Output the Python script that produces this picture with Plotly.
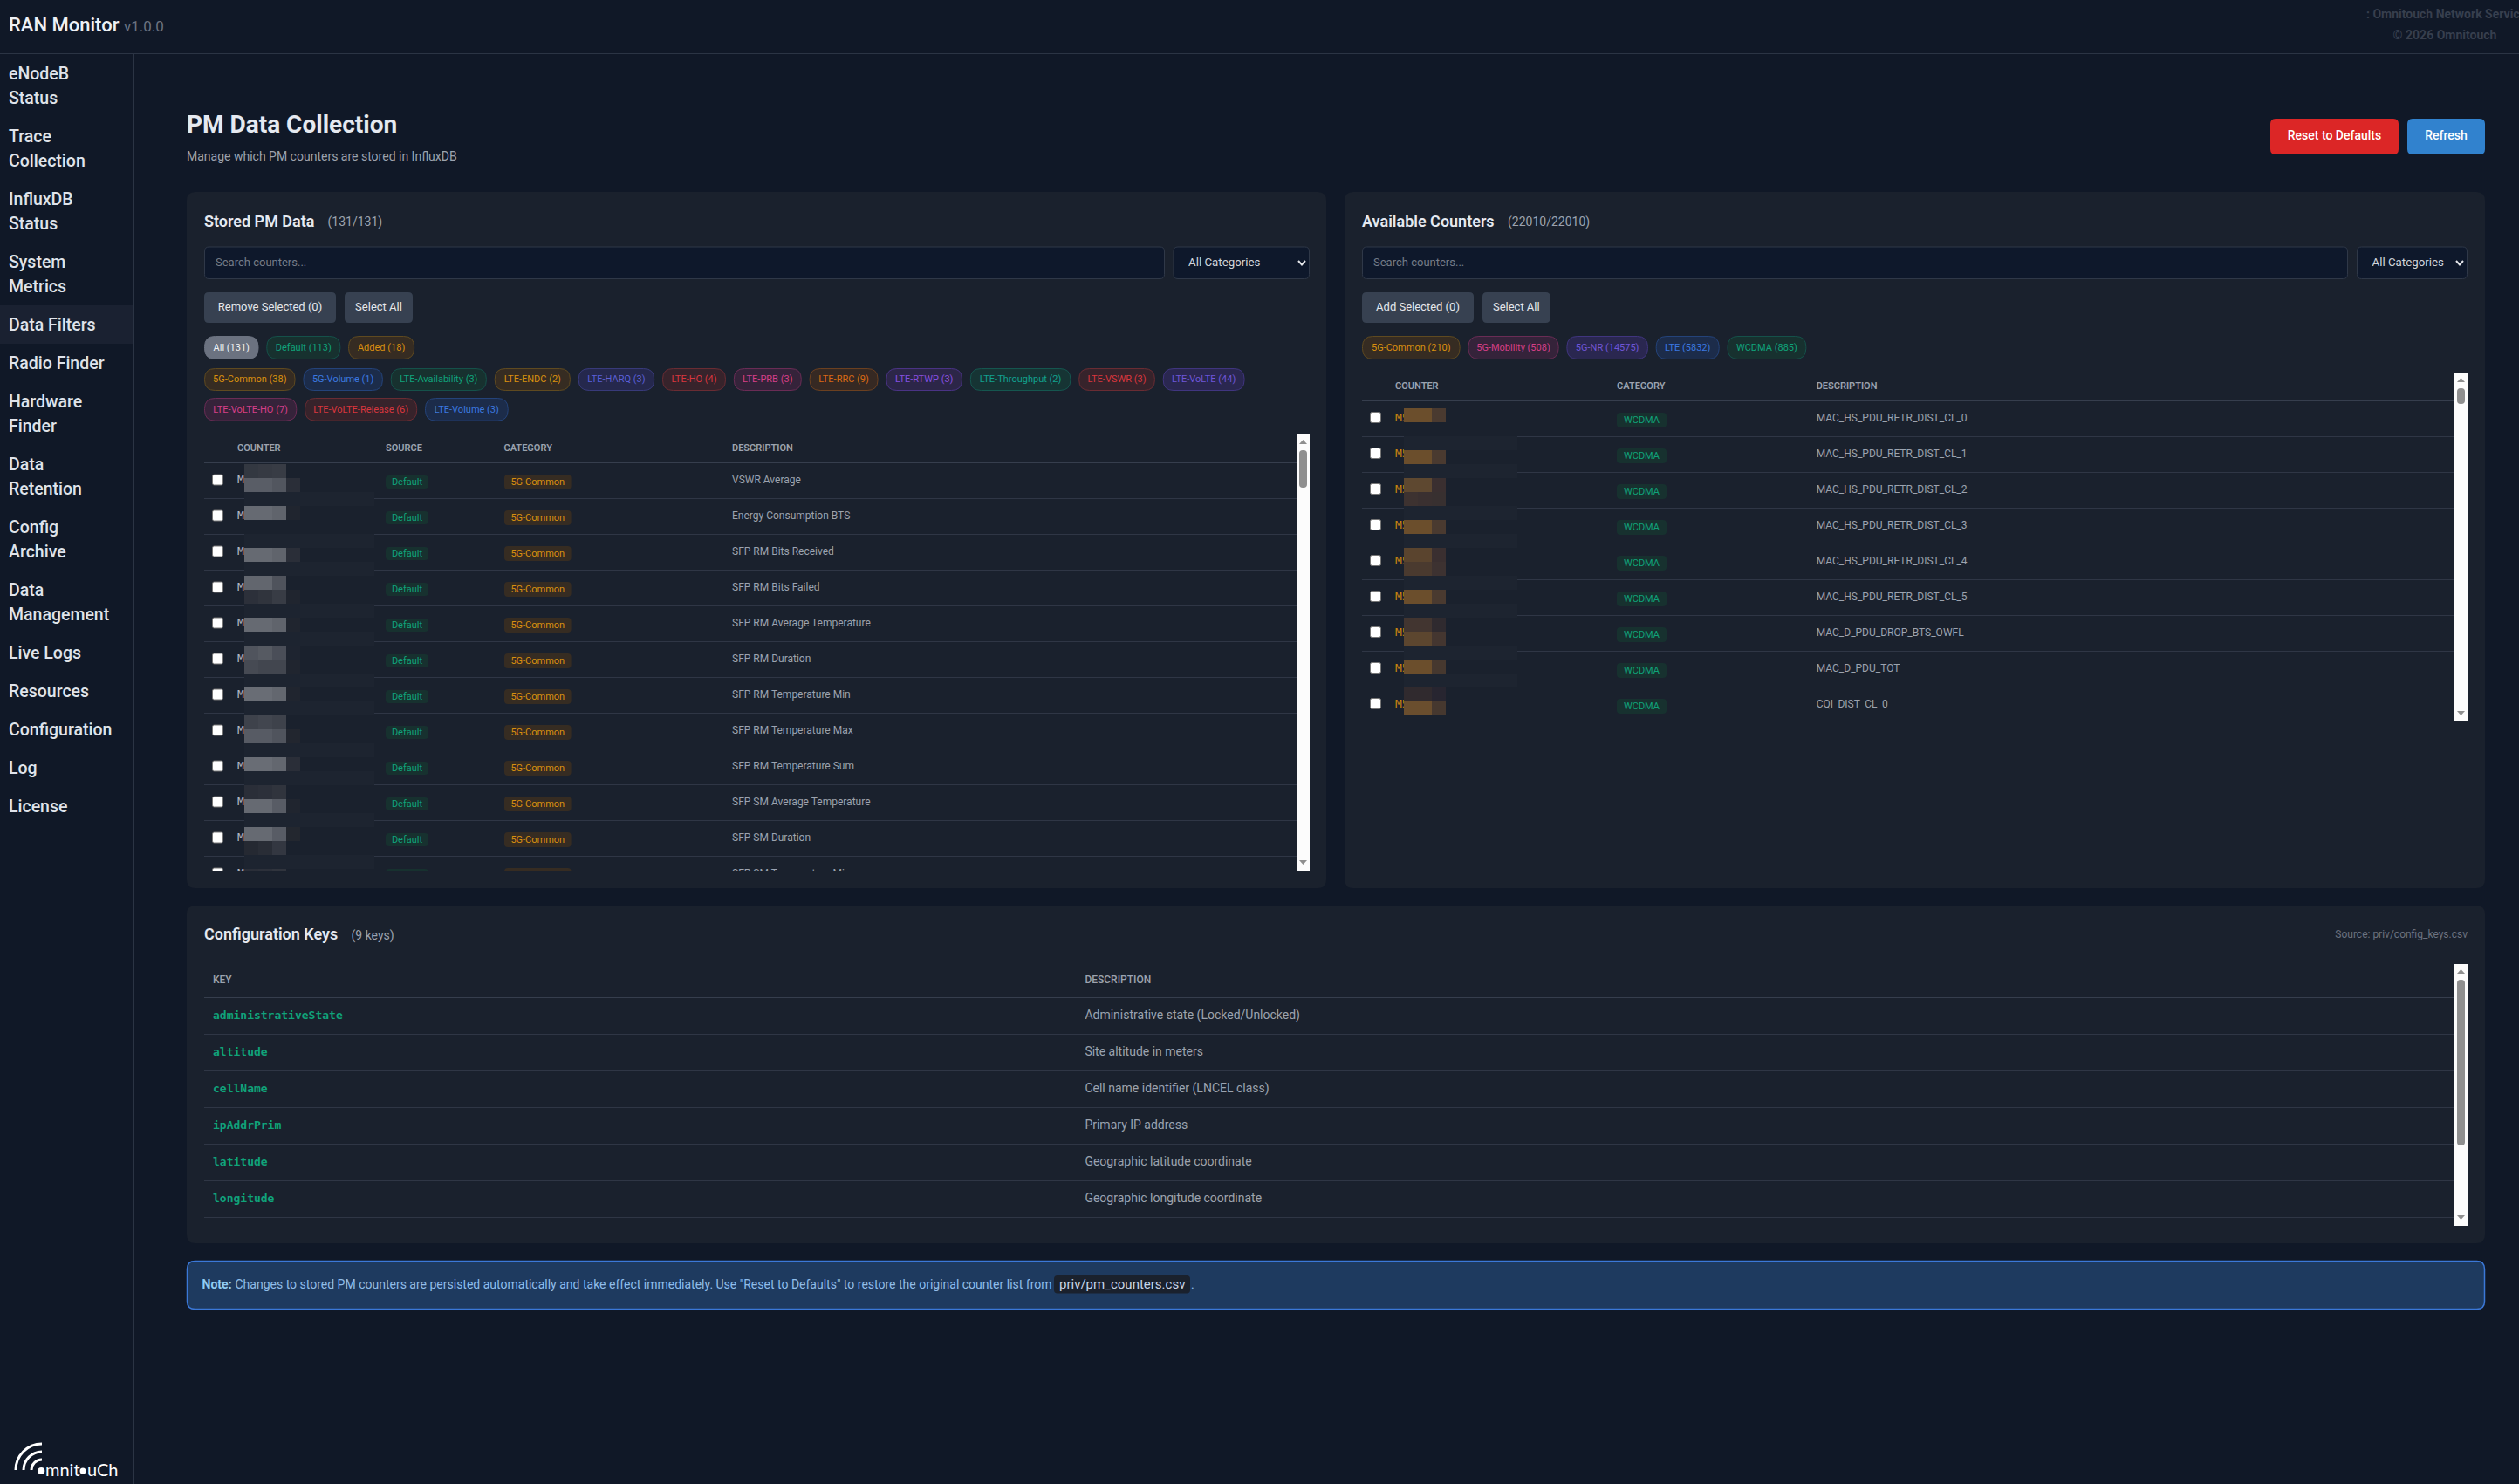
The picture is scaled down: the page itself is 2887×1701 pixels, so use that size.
#RAN Monitor - PM Data Collection page
import plotly.graph_objects as go

W, H = 2887, 1701
SANS = 'Roboto'
MONO = 'DejaVu Sans Mono'

NAV_ITEMS = [['eNodeB', 'Status'], ['Trace', 'Collection'], ['InfluxDB', 'Status'], ['System', 'Metrics'],
             ['Data Filters'], ['Radio Finder'], ['Hardware', 'Finder'], ['Data', 'Retention'],
             ['Config', 'Archive'], ['Data', 'Management'], ['Live Logs'], ['Resources'],
             ['Configuration'], ['Log'], ['License']]

SOURCE_NAMES = ['All', 'Default', 'Added']
SOURCE_COUNTS = [131, 113, 18]
STORED_ROW1 = ['5G-Common', '5G-Volume', 'LTE-Availability', 'LTE-ENDC', 'LTE-HARQ', 'LTE-HO', 'LTE-PRB',
               'LTE-RRC', 'LTE-RTWP', 'LTE-Throughput', 'LTE-VSWR', 'LTE-VoLTE']
STORED_ROW1_COUNTS = [38, 1, 3, 2, 3, 4, 3, 9, 3, 2, 3, 44]
STORED_ROW2 = ['LTE-VoLTE-HO', 'LTE-VoLTE-Release', 'LTE-Volume']
STORED_ROW2_COUNTS = [7, 6, 3]
AVAILABLE_CATS = ['5G-Common', '5G-Mobility', '5G-NR', 'LTE', 'WCDMA']
AVAILABLE_COUNTS = [210, 508, 14575, 5832, 885]

STORED_DESC = ['VSWR Average', 'Energy Consumption BTS', 'SFP RM Bits Received', 'SFP RM Bits Failed',
               'SFP RM Average Temperature', 'SFP RM Duration', 'SFP RM Temperature Min',
               'SFP RM Temperature Max', 'SFP RM Temperature Sum', 'SFP SM Average Temperature',
               'SFP SM Duration', 'SFP SM Temperature Min']
AVAILABLE_DESC = ['MAC_HS_PDU_RETR_DIST_CL_0', 'MAC_HS_PDU_RETR_DIST_CL_1', 'MAC_HS_PDU_RETR_DIST_CL_2',
                  'MAC_HS_PDU_RETR_DIST_CL_3', 'MAC_HS_PDU_RETR_DIST_CL_4', 'MAC_HS_PDU_RETR_DIST_CL_5',
                  'MAC_D_PDU_DROP_BTS_OWFL', 'MAC_D_PDU_TOT', 'CQI_DIST_CL_0']
CONFIG_KEYS = ['administrativeState', 'altitude', 'cellName', 'ipAddrPrim', 'latitude', 'longitude']
CONFIG_DESC = ['Administrative state (Locked/Unlocked)', 'Site altitude in meters',
               'Cell name identifier (LNCEL class)', 'Primary IP address',
               'Geographic latitude coordinate', 'Geographic longitude coordinate']

# colours
PAGE, PANEL, FIELD = '#101827', '#1a212d', '#0e182b'
EDGE, ROW_LINE = '#2f3848', '#2f3645'
GREY, DIM = '#9ca3af', '#6b7280'
CHIP = {
    'amber': ('#d9900f', '#362c22', '#5f4a20'), 'green': ('#10a37a', '#17312f', '#15514a'),
    'blue': ('#3b78e0', '#1c2c4a', '#24437a'), 'indigo': ('#5a5fd8', '#25284d', '#383a7a'),
    'red': ('#d9363e', '#37232b', '#6a2c33'), 'pink': ('#d63f88', '#35233a', '#6a2c55'),
    'orange': ('#d96a14', '#362923', '#6b4020'), 'purple': ('#8650e0', '#2c2648', '#4a3385'),
    'teal': ('#12a08e', '#163434', '#15564f'), 'violet': ('#6f56d8', '#2a2750', '#40357f'),
    'grey': ('#f0f1f3', '#6b7280', '#6b7280'),
}
TONE = {'All': 'grey', 'Default': 'green', 'Added': 'amber', '5G-Common': 'amber', '5G-Volume': 'blue',
        'LTE-Availability': 'green', 'LTE-ENDC': 'amber', 'LTE-HARQ': 'indigo', 'LTE-HO': 'red',
        'LTE-PRB': 'pink', 'LTE-RRC': 'orange', 'LTE-RTWP': 'purple', 'LTE-Throughput': 'teal',
        'LTE-VSWR': 'red', 'LTE-VoLTE': 'violet', 'LTE-VoLTE-HO': 'pink', 'LTE-VoLTE-Release': 'red',
        'LTE-Volume': 'blue', '5G-Mobility': 'pink', '5G-NR': 'violet', 'LTE': 'blue', 'WCDMA': 'green'}

# pixelated name cells, one entry per 16px band
BAND = '#1d2430'
MOSAIC_LEFT = [
    (532, ['#333841', '#363a43', '#383c45', None]), (548, ['#595d66', '#595d66', '#52565f', '#2a2e38']), (564, 'band'),
    (580, ['#666a72', '#666a72', '#60646c', '#20252f']), (612, 'band'),
    (628, ['#666a72', '#666a72', '#60646c', '#2a2e38']), (644, 'band'),
    (660, ['#62666e', '#62666e', '#4f535c', None]), (676, ['#2c303a', '#30343d', '#383c45', '#20252f']), (692, 'band'),
    (708, ['#666a72', '#666a72', '#60646c', '#20252f']), (724, 'band'),
    (740, ['#50545d', '#565a62', '#4a4e58', '#1e2430']), (756, ['#464a53', '#42464f', '#42464f', '#20252f']), (772, 'band'),
    (788, ['#696d75', '#696d75', '#63676f', '#20252f']), (804, 'band'),
    (820, ['#3e424b', '#42464f', '#3e424b', None]), (836, ['#575b64', '#575b64', '#50545d', '#22262f']), (852, 'band'),
    (868, ['#696d75', '#696d75', '#63676f', '#2a2e38']), (884, 'band'),
    (900, ['#2a2e38', '#2c303a', '#30343d', None]), (916, ['#666a72', '#666a72', '#585c65', '#20252f']), (932, 'band'),
    (948, ['#666a72', '#666a72', '#585c65', '#23272f']), (964, ['#252932', '#292d36', '#333741', None]), (980, 'band'),
    (996, ['#2a2e38', '#2c303a', '#30343d', None]),
]
MOSAIC_RIGHT = [
    (468, ['#6b4e2c', '#6b4e2c', '#4a3a30']), (500, 'band'), (516, ['#6b4e2c', '#6b4e2c', '#4a3a30']), (532, 'band'),
    (548, ['#5e4830', '#5e4830', '#3a2f30']), (564, ['#3d3230', '#3a3030', '#383030']), (580, 'band'),
    (596, ['#6b4e2c', '#6b4e2c', '#4a3a30']), (612, 'band'),
    (628, ['#5a442e', '#5a442e', '#3a2f30']), (644, ['#4a3a2f', '#4a3a2f', '#3d3231']), (660, 'band'),
    (676, ['#6b4e2c', '#6b4e2c', '#4a3a30']), (692, 'band'),
    (708, ['#423530', '#423530', '#2f2a2f']), (724, ['#5c462f', '#5c462f', '#443630']), (740, 'band'),
    (756, ['#6b4e2c', '#6b4e2c', '#46382f']), (772, 'band'),
    (788, ['#302a2e', '#302a2e', '#272530']), (804, ['#6a4e2e', '#6a4e2e', '#46382f']),
]

shapes = []
texts = {}


def rrect(x0, y0, x1, y1, r, fill, line=None, lw=1, layer='below'):
    path = (f'M{x0 + r},{y0} L{x1 - r},{y0} Q{x1},{y0} {x1},{y0 + r} L{x1},{y1 - r} Q{x1},{y1} {x1 - r},{y1} '
            f'L{x0 + r},{y1} Q{x0},{y1} {x0},{y1 - r} L{x0},{y0 + r} Q{x0},{y0} {x0 + r},{y0} Z')
    shapes.append(dict(type='path', path=path, fillcolor=fill, layer=layer,
                       line=dict(color=line or fill, width=lw if line else 0)))


def rect(x0, y0, x1, y1, fill, layer='below'):
    shapes.append(dict(type='rect', x0=x0, y0=y0, x1=x1, y1=y1, fillcolor=fill, layer=layer, line=dict(width=0)))


def hline(x0, x1, y, color=ROW_LINE):
    shapes.append(dict(type='line', x0=x0, x1=x1, y0=y, y1=y, layer='below', line=dict(color=color, width=1)))


def stroke(path, color, width=2):
    shapes.append(dict(type='path', path=path, layer='below', line=dict(color=color, width=width)))


def dot(cx, cy, r, color):
    shapes.append(dict(type='circle', x0=cx - r, x1=cx + r, y0=cy - r, y1=cy + r, fillcolor=color,
                       layer='below', line=dict(width=0)))


def text(x, y, s, size, color, weight=400, family=SANS, anchor='left'):
    key = (family, size, color, weight, anchor)
    texts.setdefault(key, []).append((x, y + 1, s))


def chips(x, y0, y1, names, counts, widths):
    for name, n, w in zip(names, counts, widths):
        ink, fill, edge = CHIP[TONE[name]]
        rrect(x + .5, y0 + .5, x + w - .5, y1 - .5, 12, fill, edge)
        text(x + w / 2, (y0 + y1) / 2 - .5, f'{name} ({n})', 11, ink, anchor='center')
        x += w + 8.8


def badge(x0, x1, y0, y1, s, tone, size=11):
    ink, fill, _ = CHIP[tone]
    rrect(x0, y0, x1, y1, 4, fill)
    text((x0 + x1) / 2, (y0 + y1) / 2 - .5, s, size, ink, anchor='center')


def scrollbar(x0, x1, y0, y1, t0, t1):
    rect(x0, y0, x1, y1, '#fcfcfc', layer='above')
    c = (x0 + x1) / 2
    rrect(x0 + 3, t0, x1 - 3, t1, 4, '#8f8f8f', layer='above')
    shapes.append(dict(type='path', path=f'M{c - 4.5},{y0 + 11} L{c + 4.5},{y0 + 11} L{c},{y0 + 6} Z',
                       fillcolor='#8f8f8f', layer='above', line=dict(width=0)))
    shapes.append(dict(type='path', path=f'M{c - 4.5},{y1 - 12} L{c + 4.5},{y1 - 12} L{c},{y1 - 7} Z',
                       fillcolor='#8f8f8f', layer='above', line=dict(width=0)))


def checkbox(cx, cy):
    rrect(cx - 6, cy - 6, cx + 6, cy + 6, 2, '#ffffff', '#767676', 1)


def mosaic(rows, x0, x_band):
    for y, cells in rows:
        if cells == 'band':
            rect(x0, y, x_band, y + 16, BAND, layer='above')
            continue
        y1 = min(y + 16, 998)
        for i, c in enumerate(cells):
            if c:
                rect(x0 + 16 * i, y, x0 + 16 * (i + 1), y1, c, layer='above')


def select(x0, x1, tx, cx):
    rrect(x0, 283, x1, 319.5, 5, FIELD, EDGE)
    text(tx, 301, 'All Categories', 13.3, '#d1d5db')
    stroke(f'M{cx - 4},{299} L{cx},{303.5} L{cx + 4},{299}', '#e5e7eb', 2)


# page chrome
hline(0, W, 61.5, '#2b3444')
shapes.append(dict(type='line', x0=153.5, x1=153.5, y0=62, y1=H, layer='below', line=dict(color='#2b3444', width=1)))
text(10, 29.5, 'RAN Monitor', 22, '#eef1f6', 500)
text(142, 31, 'v1.0.0', 17, '#6b7280')
text(2712, 16, ': Omnitouch Network Services', 14, '#373f4e', 700)
text(2802, 40, '© 2026 Omnitouch', 14, '#373f4e', 700, anchor='center')

# sidebar
rect(0, 350, 153, 394, '#1a2131')
nav_y = 84.7
for lines in NAV_ITEMS:
    for k, line in enumerate(lines):
        text(10, nav_y + 28 * k, line, 19.5, '#dfe3ea', 500)
    nav_y += 28 * (len(lines) - 1) + 44

# logo
cx, cy = 48, 1685
for r in (30, 21, 12):
    k = r * .552
    stroke(f'M{cx - r},{cy} C{cx - r},{cy - k} {cx - k},{cy - r} {cx},{cy - r}', '#ffffff', 3)
dot(47.3, 1686, 4, '#ffffff')
dot(95, 1686, 3.5, '#ffffff')
text(52, 1686, 'mnit', 20, '#ffffff', family='Lato')
text(100, 1686, 'uCh', 20, '#ffffff', family='Lato')

# page heading
text(214, 144, 'PM Data Collection', 28, '#e5e9f0', 700)
text(214, 179, 'Manage which PM counters are stored in InfluxDB', 14, GREY)
rrect(2602, 136, 2749, 177, 6, '#dc2626')
text(2675.5, 155.5, 'Reset to Defaults', 14, '#ffffff', 500, anchor='center')
rrect(2759, 136, 2848, 177, 6, '#3182ce')
text(2803.5, 155.5, 'Refresh', 14, '#ffffff', 500, anchor='center')

# stored panel
rrect(214, 220, 1520, 1018, 10, PANEL)
text(234, 254, 'Stored PM Data', 18, '#e5e9f0', 600)
text(375.5, 254.5, '(131/131)', 14, GREY)
rrect(234.5, 283, 1334.5, 319.5, 5, FIELD, EDGE)
text(247, 300.5, 'Search counters...', 13, '#757c88')
select(1345, 1500.5, 1362, 1492)
rrect(234, 335, 385, 370, 5, '#374151')
text(309.5, 352, 'Remove Selected (0)', 13, '#e5e7eb', anchor='center')
rrect(395, 335, 473, 370, 5, '#374151')
text(434, 352, 'Select All', 13, '#e5e7eb', anchor='center')
chips(234, 385, 412, SOURCE_NAMES, SOURCE_COUNTS, [62.5, 85, 76])
chips(234, 422, 448, STORED_ROW1, STORED_ROW1_COUNTS,
      [104.6, 91.5, 110.2, 87.2, 87.5, 73, 78, 79, 87.6, 115.6, 87.7, 93.9])
chips(234, 456, 482.7, STORED_ROW2, STORED_ROW2_COUNTS, [106.3, 129.1, 95.7])

for x, head in zip((272, 442, 577.5, 839), ('COUNTER', 'SOURCE', 'CATEGORY', 'DESCRIPTION')):
    text(x, 513, head, 11, GREY, 600)
hline(234, 1486, 530.5, '#363e4d')
for i, desc in enumerate(STORED_DESC):
    top = 530.5 + 41 * i
    if top + 41 < 998:
        hline(234, 1486, top + 41)
    checkbox(249.5, top + 19.5)
    text(272, top + 19.5, 'M', 13, '#b3b8c3', family=MONO)
    badge(442, 491, top + 14.5, top + 29.5, 'Default', 'green')
    badge(578, 654.6, top + 13.5, top + 30.5, '5G-Common', 'amber')
    text(839, top + 19.5, desc, 12, GREY)
mosaic(MOSAIC_LEFT, 280, 429)
rect(234, 998, 1486, 1017, PANEL, layer='above')
scrollbar(1486, 1501, 498, 998, 516, 559)

# available panel
rrect(1541, 220, 2848, 1018, 10, PANEL)
text(1561, 254, 'Available Counters', 18, '#e5e9f0', 600)
text(1728, 254.5, '(22010/22010)', 14, GREY)
rrect(1561.5, 283, 2690.5, 319.5, 5, FIELD, EDGE)
text(1574, 300.5, 'Search counters...', 13, '#757c88')
select(2701.5, 2827.5, 2718.5, 2819)
rrect(1561, 335, 1689, 370, 5, '#374151')
text(1625, 352, 'Add Selected (0)', 13, '#e5e7eb', anchor='center')
rrect(1699, 335, 1776.6, 370, 5, '#374151')
text(1737.8, 352, 'Select All', 13, '#e5e7eb', anchor='center')
chips(1561, 385, 412, AVAILABLE_CATS, AVAILABLE_COUNTS, [112.6, 104.2, 93.5, 73, 90.8])

for x, head in zip((1599, 1853, 2081.7), ('COUNTER', 'CATEGORY', 'DESCRIPTION')):
    text(x, 442, head, 11, GREY, 600)
hline(1561, 2813, 459.5, '#363e4d')
for i, desc in enumerate(AVAILABLE_DESC):
    top = 459.5 + 41 * i
    if i < 8:
        hline(1561, 2813, top + 41)
    checkbox(1576.5, top + 19)
    text(1599, top + 19.5, 'M5', 13, '#c9830f', family=MONO)
    badge(1853, 1910, top + 13.5, top + 30.5, 'WCDMA', 'green')
    text(2081.7, top + 19.5, desc, 12, GREY)
mosaic(MOSAIC_RIGHT, 1609, 1739)
scrollbar(2813, 2828, 427, 827, 445, 463)

# configuration keys
rrect(214, 1038, 2848, 1425, 10, PANEL)
text(234, 1071.5, 'Configuration Keys', 18, '#e5e9f0', 600)
text(402.5, 1072, '(9 keys)', 14, GREY)
text(2828, 1070.5, 'Source: priv/config_keys.csv', 12, DIM, anchor='right')
text(244, 1123, 'KEY', 12, GREY, 500)
text(1243.4, 1123, 'DESCRIPTION', 12, GREY, 500)
hline(234, 2813, 1143.5, '#363e4d')
for i, (key, desc) in enumerate(zip(CONFIG_KEYS, CONFIG_DESC)):
    top = 1143.5 + 42 * i
    hline(234, 2813, top + 42)
    text(244, top + 20, key, 13, '#10a37a', 700, family=MONO)
    text(1243.4, top + 20, desc, 14, GREY)
scrollbar(2813, 2828, 1105, 1405, 1123, 1313)

# note
rrect(214.5, 1445.5, 2847.5, 1500.5, 9, '#1e3a5f', '#3b78d8', 1.5)
text(231.6, 1472.5, 'Note:', 14, '#90cdf4', 700)
text(269.5, 1472.5, 'Changes to stored PM counters are persisted automatically and take effect immediately. '
                    'Use "Reset to Defaults" to restore the original counter list from', 14, '#90bdea')
rrect(1208, 1462, 1364, 1482.5, 4, '#1a212d')
text(1214, 1472.5, 'priv/pm_counters.csv', 15, '#c7d6ea')
text(1365, 1472.5, '.', 14, '#90bdea')

fig = go.Figure()
anchor_pos = {'left': 'middle right', 'center': 'middle center', 'right': 'middle left'}
for (family, size, color, weight, anchor), items in texts.items():
    fig.add_trace(go.Scatter(
        x=[t[0] for t in items], y=[t[1] for t in items], text=[t[2] for t in items],
        mode='text', textposition=anchor_pos[anchor], hoverinfo='skip', showlegend=False,
        textfont=dict(family=family, size=size, color=color, weight=weight)))

fig.update_layout(
    width=W, height=H, autosize=False, margin=dict(l=0, r=0, t=0, b=0),
    paper_bgcolor=PAGE, plot_bgcolor=PAGE, shapes=shapes,
    xaxis=dict(range=[0, W], visible=False, fixedrange=True),
    yaxis=dict(range=[H, 0], visible=False, fixedrange=True),
)
# the page's default body margin would leave a white edge
fig.write_html('out.html', config=dict(displayModeBar=False),
               post_script="document.body.style.margin='0';document.body.style.overflow='hidden';")
